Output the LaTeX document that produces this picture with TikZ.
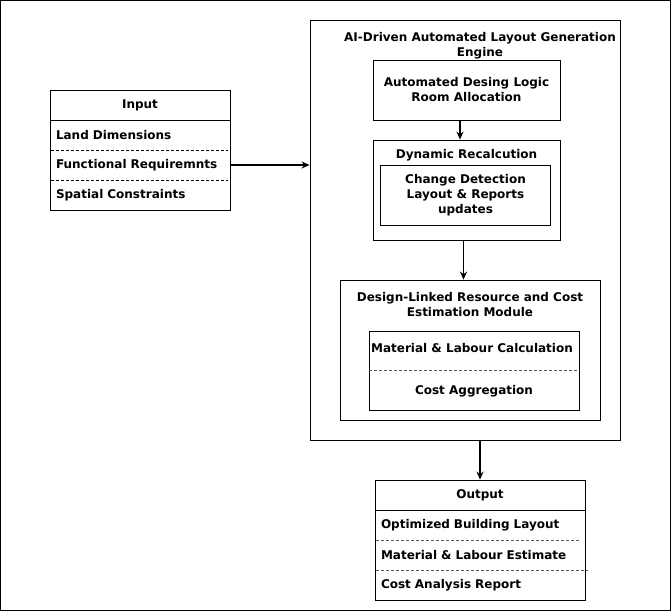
\documentclass[tikz,border=0pt]{standalone}
\usepackage{fontspec}
\setmainfont{DejaVu Sans}
\usetikzlibrary{arrows.meta}
\tikzset{
	box/.style={draw=black, line width=0.8pt, fill=white},
	txt/.style={font=\bfseries\fontsize{12}{15}\selectfont, align=center, inner sep=0pt},
	row/.style={font=\bfseries\fontsize{12}{15}\selectfont, align=left, text width=168pt, inner xsep=6pt, inner ysep=0pt, minimum height=30pt},
	sep/.style={line width=0.6pt, dash pattern=on 3pt off 2pt},
	flow/.style={line width=1.5pt, -{Stealth[length=8pt, width=7pt]}}
}
\begin{document}
\begin{tikzpicture}[x=1pt, y=-1pt]
		%%%%% FRAME %%%%%
		\useasboundingbox (0, 0) rectangle (671, 611);
		\draw[line width=0.8pt] (0.5, 0.5) rectangle (670, 610);
		
		%%%%% INPUT %%%%%
		\node[box, minimum width=180pt, minimum height=120pt] (input) at (140, 150) {};
		\node[txt] (inputhead) at (140, 105) {Input};
		\draw[line width=0.8pt] (50, 120) -- (230, 120);
		\node[row] (land) at (140, 135) {Land Dimensions};
		\node[row] (func) at (140, 165) {Functional Requiremnts};
		\node[row] (spatial) at (140, 195) {Spatial Constraints};
		\draw[sep] (51, 150) -- (228, 150);
		\draw[sep] (51, 180) -- (228, 180);
		
		%%%%% ENGINE %%%%%
		\node[box, minimum width=310pt, minimum height=420pt] (engine) at (465, 230) {};
		\node[txt] (enginehead) at (480, 45.5) {AI-Driven Automated Layout Generation\\Engine};
		
		\node[box, minimum width=187pt, minimum height=60pt] (logic) at (466.5, 90) {};
		\node[txt] (logictxt) at (466.5, 90) {Automated Desing Logic\\Room Allocation};
		
		\node[box, minimum width=187pt, minimum height=100pt] (recalc) at (466.5, 190) {};
		\node[txt] (recalchead) at (466.5, 155) {Dynamic Recalcution};
		\node[box, minimum width=170pt, minimum height=60pt] (change) at (465.5, 195) {};
		\node[txt] (changetxt) at (465.5, 195) {Change Detection\\Layout \& Reports\\updates};
		
		\node[box, minimum width=260pt, minimum height=140pt] (module) at (470, 350) {};
		\node[txt] (modulehead) at (470, 305) {Design-Linked Resource and Cost\\Estimation Module};
		\node[box, minimum width=210pt, minimum height=79pt] (calc) at (474, 370.5) {};
		\node[txt] (labour) at (472, 348) {Material \& Labour Calculation};
		\node[txt] (aggr) at (474, 391) {Cost Aggregation};
		\draw[sep, color=black!65] (369, 370) -- (579, 370);
		
		%%%%% OUTPUT %%%%%
		\node[box, minimum width=210pt, minimum height=120pt] (output) at (480, 540) {};
		\node[txt] (outputhead) at (480, 495) {Output};
		\draw[line width=0.8pt] (375, 510) -- (585, 510);
		\node[row, text width=198pt] (layout) at (480, 525) {Optimized Building Layout};
		\node[row, text width=198pt] (estimate) at (480, 555) {Material \& Labour Estimate};
		\node[row, text width=198pt] (report) at (480, 585) {Cost Analysis Report};
		\draw[sep, color=black!65] (376, 540) -- (580, 540);
		\draw[sep, color=black!65] (376, 570) -- (588, 570);
		
		%%%%% ARROWS %%%%%
		\draw[flow] (func.east) -- (func.east -| engine.west);
		\draw[flow] ([xshift=-6.5pt]logic.south) -- ([xshift=-6.5pt]logic.south |- recalc.north);
		\draw[flow] ([xshift=-3pt]recalc.south) -- ([xshift=-3pt]recalc.south |- module.north);
		\draw[flow] (output.north |- engine.south) -- (output.north);
		
		%%%%% END %%%%%
\end{tikzpicture}
\end{document}
